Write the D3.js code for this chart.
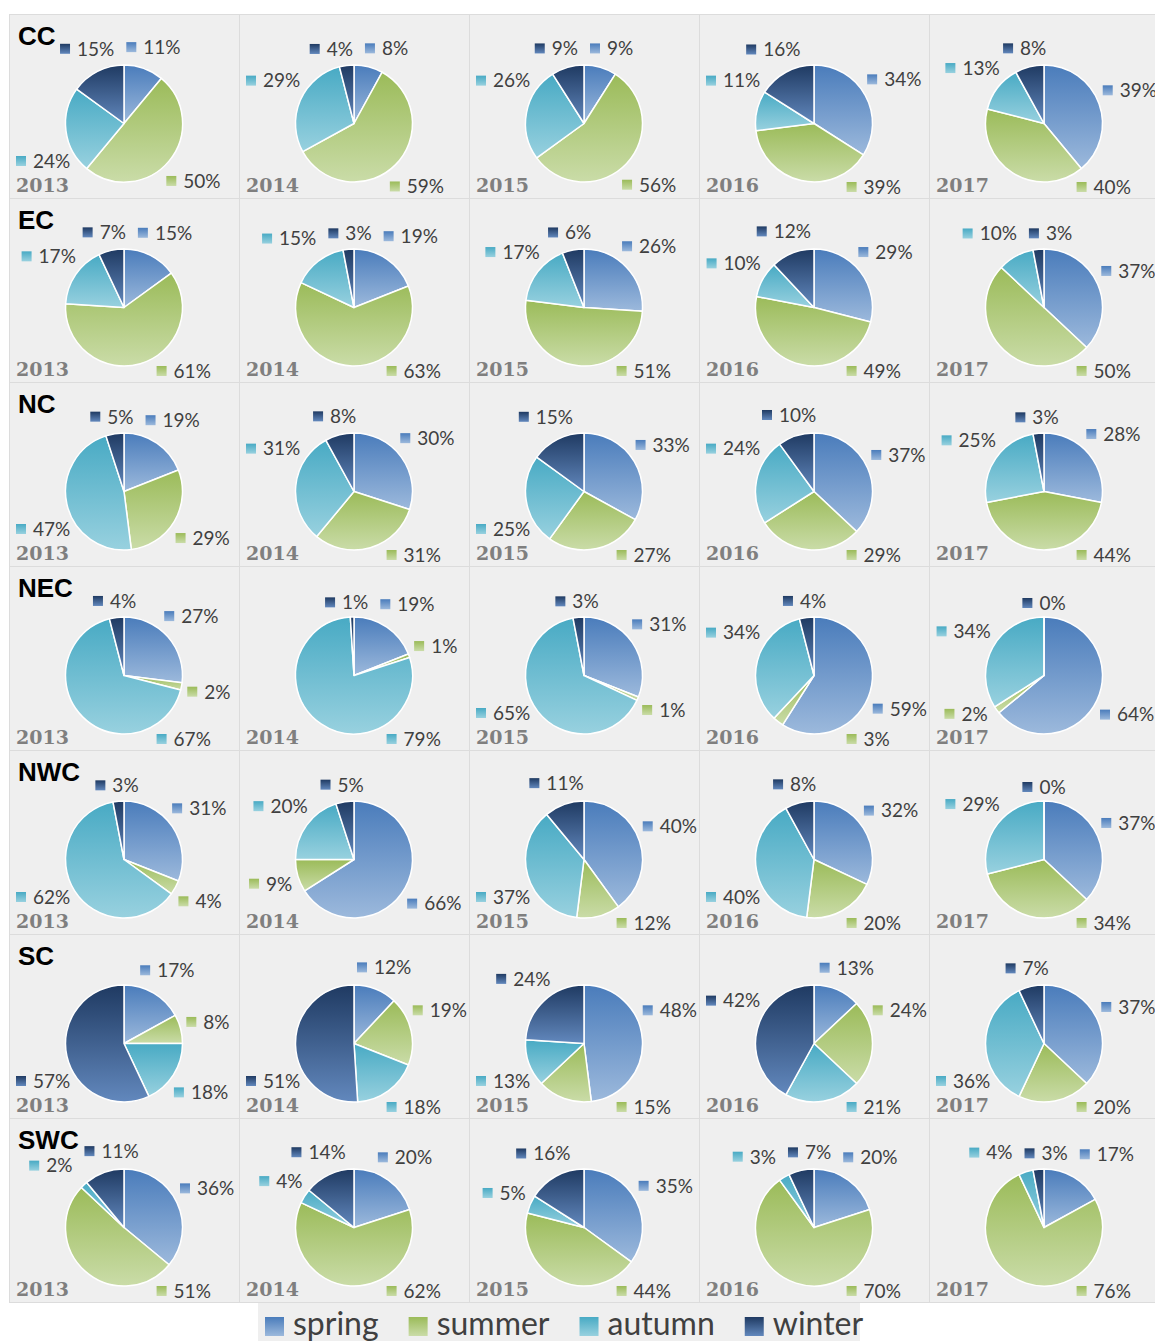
<!DOCTYPE html>
<html>
<head>
<meta charset="utf-8">
<script src="https://cdn.jsdelivr.net/npm/d3@7"></script>
<style>
  body { margin: 0; background: #ffffff; }
</style>
</head>
<body>
<svg id="chart" width="1155" height="1341"></svg>
<script>
// Regions (rows), years (columns) and seasons (slices, clockwise from 12 o'clock)
const regions = ["CC", "EC", "NC", "NEC", "NWC", "SC", "SWC"];
const years = ["2013", "2014", "2015", "2016", "2017"];
const seasons = ["spring", "summer", "autumn", "winter"];

// Seasonal share (%) for each year, in season order: spring, summer, autumn, winter
const CC  = [[11, 50, 24, 15], [8, 59, 29, 4], [9, 56, 26, 9], [34, 39, 11, 16], [39, 40, 13, 8]];
const EC  = [[15, 61, 17, 7], [19, 63, 15, 3], [26, 51, 17, 6], [29, 49, 10, 12], [37, 50, 10, 3]];
const NC  = [[19, 29, 47, 5], [30, 31, 31, 8], [33, 27, 25, 15], [37, 29, 24, 10], [28, 44, 25, 3]];
const NEC = [[27, 2, 67, 4], [19, 1, 79, 1], [31, 1, 65, 3], [59, 3, 34, 4], [64, 2, 34, 0]];
const NWC = [[31, 4, 62, 3], [66, 9, 20, 5], [40, 12, 37, 11], [32, 20, 40, 8], [37, 34, 29, 0]];
const SC  = [[17, 8, 18, 57], [12, 19, 18, 51], [48, 15, 13, 24], [13, 24, 21, 42], [37, 20, 36, 7]];
const SWC = [[36, 51, 2, 11], [20, 62, 4, 14], [35, 44, 5, 16], [20, 70, 3, 7], [17, 76, 4, 3]];
const shares = { CC, EC, NC, NEC, NWC, SC, SWC };

// Gradient stops for each season (top -> bottom)
const seasonTop = ["#4a7cbb", "#9bbb59", "#48aac4", "#1f3a62"];
const seasonBottom = ["#9cb9dc", "#cadca8", "#98d1df", "#6288bd"];

const gridX = 9, gridY = 14, cellW = 230, cellH = 184;
const R = 58.5, pieDX = 115, pieDY = 109.5;
const gap = 5;
const labelFont = "Lato, 'Open Sans', sans-serif";
const yearFont = "'DejaVu Serif', serif";
const titleFont = "'Liberation Sans', Arial, sans-serif";

const svg = d3.select("#chart");
const defs = svg.append("defs");
seasons.forEach((s, i) => {
  const g = defs.append("linearGradient")
    .attr("id", "grad-" + s)
    .attr("x1", 0).attr("y1", 0).attr("x2", 0).attr("y2", 1);
  g.append("stop").attr("offset", "0%").attr("stop-color", seasonTop[i]);
  g.append("stop").attr("offset", "100%").attr("stop-color", seasonBottom[i]);
});

const col = d3.scaleBand().domain(years).range([gridX, gridX + cellW * years.length]);
const row = d3.scaleBand().domain(regions).range([gridY, gridY + cellH * regions.length]);

const pie = d3.pie().sort(null).value(d => d);
const arc = d3.arc().innerRadius(0).outerRadius(R);

// measure text widths for label boxes
const measurer = svg.append("text").attr("x", -1000).attr("y", -1000);
function textWidth(t, size, family, weight) {
  measurer.attr("font-size", size || 19)
    .attr("font-family", family || labelFont)
    .attr("font-weight", weight || "normal")
    .text(t);
  return measurer.node().getComputedTextLength();
}

const BOTTOM_RIGHT_LIMIT = 230 * Math.PI / 180;
const H_GAP = 12, V_GAP = 1;

// Outside-end label placement: kept inside the cell, clear of the pie,
// of the cell captions and of each other
function placeLabels(labels, b, Rg, obstacles) {
  const year = obstacles.find(o => o.kind === "year");
  const clampBox = l => {
    let cx = false, cy = false;
    if (l.x - l.hw < b.left) { l.x = b.left + l.hw; cx = true; }
    if (l.x + l.hw > b.right) { l.x = b.right - l.hw; cx = true; }
    if (l.y - l.hh < b.top) { l.y = b.top + l.hh; cy = true; }
    if (l.y + l.hh > b.bottom) { l.y = b.bottom - l.hh; cy = true; }
    return { cx, cy };
  };
  const near = l => [
    Math.max(l.x - l.hw, Math.min(0, l.x + l.hw)),
    Math.max(l.y - l.hh, Math.min(0, l.y + l.hh))
  ];
  const pushOut = (l, axis) => {
    const [px, py] = near(l);
    const d = Math.hypot(px, py);
    if (d >= Rg) return;
    if (axis === "y") {
      if (Math.abs(px) >= Rg) return;
      const need = Math.sqrt(Rg * Rg - px * px);
      const s = l.y >= 0 ? 1 : -1;
      l.y = s * (need + l.hh);
    } else if (axis === "x") {
      if (Math.abs(py) >= Rg) return;
      const need = Math.sqrt(Rg * Rg - py * py);
      let s = l.x >= 0 ? 1 : -1;
      if (l.y > 0 && s < 0) {
        // left of the pie bottom only when clear of the year caption
        const leftEdge = -(need + l.hw) - l.hw;
        const blocked = year && leftEdge < year.x2 && l.y + l.hh > year.y1;
        if (blocked || l.angle < BOTTOM_RIGHT_LIMIT) s = 1;
      }
      l.x = s * (need + l.hw);
    } else {
      if (d === 0) return;
      l.x += px / d * (Rg - d);
      l.y += py / d * (Rg - d);
    }
  };
  const avoidObstacles = l => {
    obstacles.forEach(o => {
      const ox = Math.min(l.x + l.hw, o.x2) - Math.max(l.x - l.hw, o.x1);
      const oy = Math.min(l.y + l.hh, o.y2) - Math.max(l.y - l.hh, o.y1);
      if (ox <= 0 || oy <= 0) return;
      if (o.kind === "year") {
        if (l.angle < BOTTOM_RIGHT_LIMIT) l.x += ox + 1; else l.y -= oy + 1;
      } else {
        if (ox < oy * 2) l.x += ox + 1; else l.y += oy + 1;
      }
    });
  };
  const canV = (l, dy) => l.y + dy - l.hh >= b.top - 0.1 && l.y + dy + l.hh <= b.bottom + 0.1;
  for (let iter = 0; iter < 100; iter++) {
    for (let i = 0; i < labels.length; i++) {
      for (let j = i + 1; j < labels.length; j++) {
        const a = labels[i], c = labels[j];
        const ox = a.hw + c.hw + H_GAP - Math.abs(a.x - c.x);
        const oy = a.hh + c.hh + V_GAP - Math.abs(a.y - c.y);
        if (ox > 0 && oy > 0) {
          const dirV = Math.sign(a.y - c.y) || (a.angle < c.angle ? -1 : 1);
          if (oy <= ox && canV(a, dirV * oy / 2) && canV(c, -dirV * oy / 2)) {
            a.y += dirV * oy / 2; c.y -= dirV * oy / 2;
          } else {
            const dir = Math.sign(a.x - c.x) || (a.angle < c.angle ? 1 : -1);
            a.x += dir * ox / 2; c.x -= dir * ox / 2;
          }
        }
      }
    }
    labels.forEach(l => {
      avoidObstacles(l);
      pushOut(l, "r");
      const c = clampBox(l);
      if (c.cx) pushOut(l, "y");
      if (c.cy) pushOut(l, "x");
      clampBox(l);
    });
  }
  labels.forEach(l => { avoidObstacles(l); clampBox(l); });
}

// cells
const cells = [];
regions.forEach(r => years.forEach((y, yi) => cells.push({ region: r, year: y, values: shares[r][yi] })));

svg.append("g").selectAll("rect")
  .data(cells)
  .join("rect")
  .attr("x", d => col(d.year) + 0.5)
  .attr("y", d => row(d.region) + 0.5)
  .attr("width", cellW)
  .attr("height", cellH)
  .attr("fill", "#efefef")
  .attr("stroke", "#dcdcdc")
  .attr("stroke-width", 1);

const cellG = svg.append("g").selectAll("g")
  .data(cells)
  .join("g")
  .attr("transform", d => `translate(${col(d.year)},${row(d.region)})`);

// year captions
cellG.append("text")
  .attr("x", 7)
  .attr("y", 178)
  .attr("font-family", yearFont)
  .attr("font-weight", "bold")
  .attr("font-size", 19)
  .attr("fill", "#7f7f7f")
  .text(d => d.year);

// region titles in the first column
cellG.filter(d => d.year === years[0])
  .append("text")
  .attr("x", 9)
  .attr("y", 31)
  .attr("font-family", titleFont)
  .attr("font-weight", "bold")
  .attr("font-size", 26)
  .attr("fill", "#000000")
  .text(d => d.region);

cellG.each(function (d) {
  const g = d3.select(this);
  const pg = g.append("g").attr("transform", `translate(${pieDX},${pieDY})`);
  const arcs = pie(d.values);

  pg.selectAll("path")
    .data(arcs)
    .join("path")
    .attr("d", arc)
    .attr("fill", (a, i) => `url(#grad-${seasons[i]})`)
    .attr("stroke", "#ffffff")
    .attr("stroke-width", 1.5)
    .attr("stroke-linejoin", "round");

  const labels = arcs.map((a, i) => {
    const text = a.data + "%";
    const tw = textWidth(text);
    const w = 10 + 7 + tw;
    const angle = (a.startAngle + a.endAngle) / 2;
    const s = Math.sin(angle), c = -Math.cos(angle);
    const hw = w / 2, hh = 9;
    const dist = R + gap + hw * Math.abs(s) + hh * Math.abs(c);
    return { i, text, tw, w, hw, hh, angle, x: s * dist, y: c * dist };
  });
  const bounds = {
    left: 7 - pieDX,
    right: 228 - pieDX,
    top: 22 - pieDY,
    bottom: 182 - pieDY
  };
  const yw = textWidth(d.year, 19, yearFont, "bold");
  const obstacles = [{ kind: "year", x1: 5 - pieDX, x2: 9 + yw - pieDX, y1: 157 - pieDY, y2: 184 - pieDY }];
  if (d.year === years[0]) {
    const tw = textWidth(d.region, 26, titleFont, "bold");
    obstacles.push({ kind: "title", x1: 7 - pieDX, x2: 13 + tw - pieDX, y1: 6 - pieDY, y2: 36 - pieDY });
  }
  placeLabels(labels, bounds, R + gap, obstacles);

  const lg = pg.selectAll("g.lbl")
    .data(labels)
    .join("g")
    .attr("class", "lbl")
    .attr("transform", l => `translate(${l.x - l.hw},${l.y})`);
  lg.append("rect")
    .attr("x", 0)
    .attr("y", -5)
    .attr("width", 10)
    .attr("height", 10)
    .attr("fill", l => `url(#grad-${seasons[l.i]})`);
  lg.append("text")
    .attr("x", 17)
    .attr("y", 0)
    .attr("dy", "0.36em")
    .attr("font-family", labelFont)
    .attr("font-size", 19)
    .attr("fill", "#404040")
    .text(l => l.text);
});

measurer.remove();

// legend
const legend = svg.append("g");
legend.append("rect")
  .attr("x", 258).attr("y", 1303)
  .attr("width", 602).attr("height", 38)
  .attr("fill", "#efefef");
let lx = 265;
seasons.forEach(s => {
  legend.append("rect")
    .attr("x", lx).attr("y", 1317)
    .attr("width", 19).attr("height", 19)
    .attr("fill", `url(#grad-${s})`);
  const t = legend.append("text")
    .attr("x", lx + 28)
    .attr("y", 1335)
    .attr("font-family", labelFont)
    .attr("font-size", 32)
    .attr("fill", "#404040")
    .text(s);
  lx += 28 + t.node().getComputedTextLength() + 30;
});
</script>
</body>
</html>
